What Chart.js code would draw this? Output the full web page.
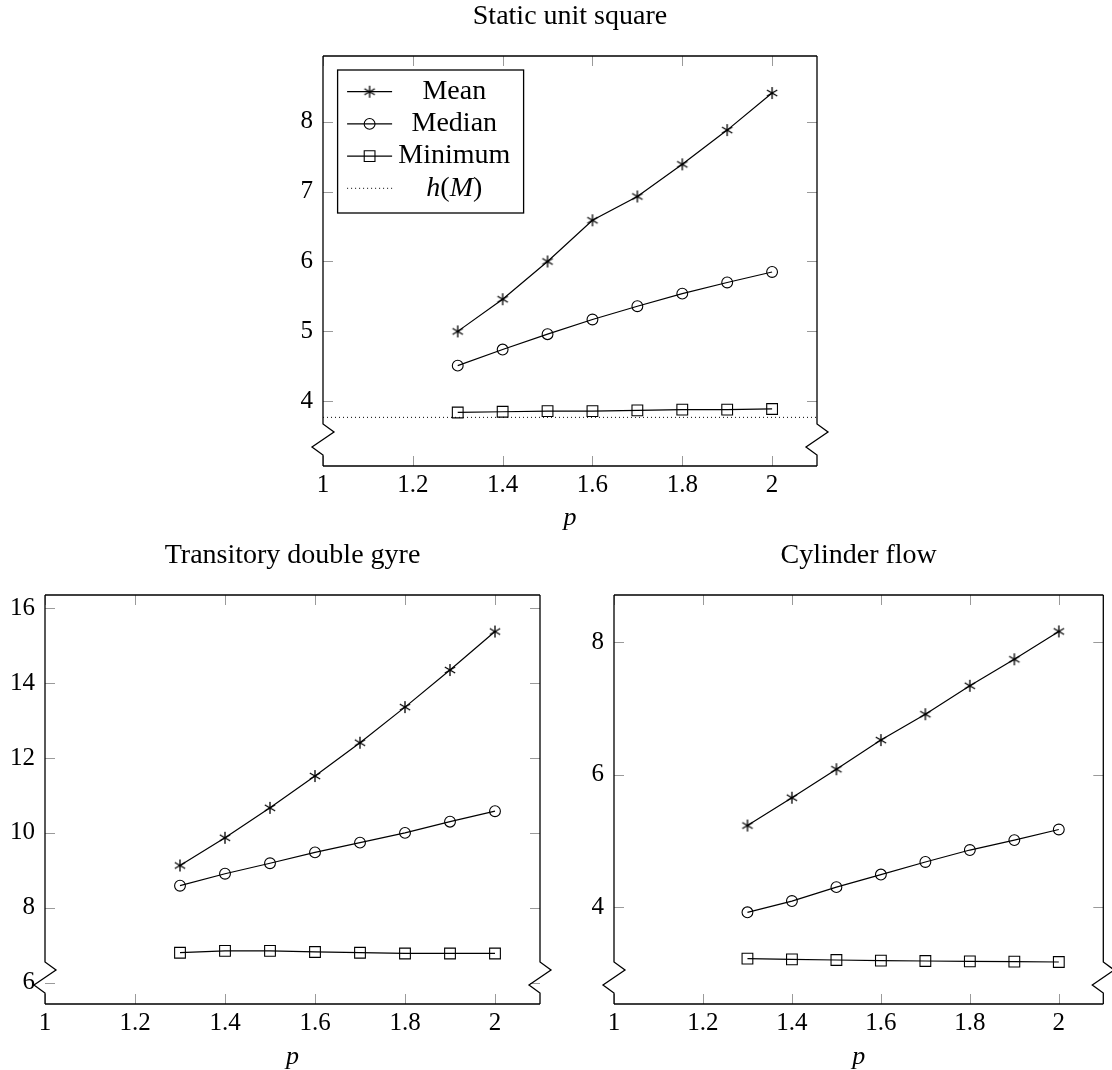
<!DOCTYPE html>
<html>
<head>
<meta charset="utf-8">
<script src="https://cdn.jsdelivr.net/npm/chart.js@4.4.0/dist/chart.umd.min.js"></script>
<style>
  body { margin: 0; background: #fff; overflow: hidden; width: 1112px; height: 1070px; position: relative; }
  .panel { position: absolute; }
</style>
</head>
<body>
<div class="panel" style="left:263px;top:0px"><canvas id="squareChart" width="580" height="536"></canvas></div>
<div class="panel" style="left:0px;top:539px"><canvas id="gyreChart" width="560" height="536"></canvas></div>
<div class="panel" style="left:570px;top:539px"><canvas id="cylinderChart" width="542" height="536"></canvas></div>
<script>
var pValues = [1.3, 1.4, 1.5, 1.6, 1.7, 1.8, 1.9, 2.0];
var pTicks = [1, 1.2, 1.4, 1.6, 1.8, 2];

var squareMean = [5.00, 5.46, 6.00, 6.59, 6.93, 7.39, 7.88, 8.41];
var squareMedian = [4.51, 4.74, 4.96, 5.17, 5.36, 5.54, 5.70, 5.85];
var squareMinimum = [3.84, 3.85, 3.86, 3.86, 3.87, 3.88, 3.88, 3.89];
var squareHM = 3.77;
var squareTicks = [4, 5, 6, 7, 8];

var gyreMean = [9.13, 9.87, 10.67, 11.52, 12.41, 13.36, 14.35, 15.38];
var gyreMedian = [8.59, 8.91, 9.19, 9.48, 9.74, 10.00, 10.30, 10.58];
var gyreMinimum = [6.80, 6.85, 6.85, 6.82, 6.80, 6.78, 6.78, 6.78];
var gyreTicks = [6, 8, 10, 12, 14, 16];

var cylinderMean = [5.23, 5.65, 6.08, 6.52, 6.91, 7.34, 7.74, 8.16];
var cylinderMedian = [3.92, 4.09, 4.30, 4.49, 4.68, 4.86, 5.01, 5.17];
var cylinderMinimum = [3.22, 3.21, 3.20, 3.19, 3.185, 3.18, 3.175, 3.17];
var cylinderTicks = [4, 6, 8];

var serif = "'Liberation Serif', 'Times New Roman', serif";
Chart.defaults.font.family = serif;
Chart.defaults.color = '#000';

// pgfplots style asterisk: three strokes through the centre
function makeAsterisk() {
    var c = document.createElement('canvas');
    c.width = 16;
    c.height = 16;
    var g = c.getContext('2d');
    g.strokeStyle = '#000';
    g.lineWidth = 1.3;
    g.beginPath();
    for (var k = 0; k < 3; k++) {
        var a = Math.PI / 2 + k * Math.PI / 3;
        g.moveTo(8 + 6 * Math.cos(a), 8 + 6 * Math.sin(a));
        g.lineTo(8 - 6 * Math.cos(a), 8 - 6 * Math.sin(a));
    }
    g.stroke();
    return c;
}
var asterisk = makeAsterisk();

function points(values) {
    return values.map(function (v, i) {
        return { x: pValues[i], y: v };
    });
}

function series(label, values, style, radius) {
    return {
        label: label,
        data: points(values),
        borderColor: '#000',
        borderWidth: 1.2,
        pointStyle: style,
        pointRadius: radius,
        pointBorderColor: '#000',
        pointBackgroundColor: 'rgba(0,0,0,0)',
        pointBorderWidth: 1.1,
        tension: 0
    };
}

function levelLine(label, level) {
    return {
        label: label,
        data: [{ x: 1, y: level }, { x: 2.1, y: level }],
        borderColor: '#000',
        borderWidth: 1,
        borderDash: [1, 3],
        pointRadius: 0,
        legendParts: [['h', 'italic'], ['(', 'normal'], ['M', 'italic'], [')', 'normal']]
    };
}

// box with inner grey ticks and the crunched y axis near the bottom
var framePlugin = {
    id: 'frame',
    afterDatasetsDraw: function (chart) {
        var ctx = chart.ctx;
        var a = chart.chartArea;
        var xs = chart.scales.x;
        var ys = chart.scales.y;
        ctx.save();
        ctx.strokeStyle = '#9a9a9a';
        ctx.lineWidth = 1;
        ctx.beginPath();
        xs.ticks.forEach(function (t) {
            var px = Math.round(xs.getPixelForValue(t.value)) + 0.5;
            ctx.moveTo(px, a.bottom);
            ctx.lineTo(px, a.bottom - 10);
            ctx.moveTo(px, a.top);
            ctx.lineTo(px, a.top + 10);
        });
        ys.ticks.forEach(function (t) {
            var py = Math.round(ys.getPixelForValue(t.value)) + 0.5;
            ctx.moveTo(a.left, py);
            ctx.lineTo(a.left + 10, py);
            ctx.moveTo(a.right, py);
            ctx.lineTo(a.right - 10, py);
        });
        ctx.stroke();

        ctx.strokeStyle = '#000';
        ctx.lineWidth = 1.3;
        ctx.beginPath();
        ctx.moveTo(a.left, a.top);
        ctx.lineTo(a.right, a.top);
        ctx.moveTo(a.left, a.bottom);
        ctx.lineTo(a.right, a.bottom);
        [a.left, a.right].forEach(function (x) {
            ctx.moveTo(x, a.top);
            ctx.lineTo(x, a.bottom - 42);
            ctx.lineTo(x + 11, a.bottom - 34);
            ctx.lineTo(x - 11, a.bottom - 19);
            ctx.lineTo(x, a.bottom - 11);
            ctx.lineTo(x, a.bottom);
        });
        ctx.stroke();
        ctx.restore();
    }
};

var legendPlugin = {
    id: 'boxLegend',
    afterDraw: function (chart) {
        var ctx = chart.ctx;
        var a = chart.chartArea;
        var x0 = a.left + 14.6;
        var y0 = a.top + 14;
        ctx.save();
        ctx.fillStyle = '#fff';
        ctx.fillRect(x0, y0, 186, 143);
        ctx.strokeStyle = '#000';
        ctx.lineWidth = 1.3;
        ctx.strokeRect(x0, y0, 186, 143);

        chart.data.datasets.forEach(function (ds, i) {
            var cy = y0 + 21.7 + i * 32.2;
            ctx.strokeStyle = '#000';
            ctx.lineWidth = ds.borderWidth;
            ctx.setLineDash(ds.borderDash || []);
            ctx.beginPath();
            ctx.moveTo(x0 + 9.5, cy);
            ctx.lineTo(x0 + 54.5, cy);
            ctx.stroke();
            ctx.setLineDash([]);
            if (ds.pointRadius > 0) {
                ctx.fillStyle = 'rgba(0,0,0,0)';
                ctx.lineWidth = ds.pointBorderWidth;
                Chart.helpers.drawPoint(ctx, {
                    pointStyle: ds.pointStyle,
                    radius: ds.pointRadius,
                    rotation: 0,
                    borderWidth: ds.pointBorderWidth
                }, x0 + 32, cy);
            }
            var parts = ds.legendParts || [[ds.label, 'normal']];
            var total = 0;
            parts.forEach(function (p) {
                ctx.font = p[1] + ' 28px ' + serif;
                total += ctx.measureText(p[0]).width;
            });
            var tx = a.left + 131.3 - total / 2;
            ctx.fillStyle = '#000';
            ctx.textBaseline = 'middle';
            ctx.textAlign = 'left';
            parts.forEach(function (p) {
                ctx.font = p[1] + ' 28px ' + serif;
                ctx.fillText(p[0], tx, cy);
                tx += ctx.measureText(p[0]).width;
            });
        });
        ctx.restore();
    }
};

function axes(yMin, yMax, yTicks, yWidth, xHeight) {
    return {
        x: {
            type: 'linear',
            min: 1,
            max: 2.1,
            afterBuildTicks: function (s) {
                s.ticks = pTicks.map(function (v) { return { value: v }; });
            },
            afterFit: function (s) { s.height = xHeight; },
            grid: { display: false, drawTicks: false },
            border: { display: false },
            ticks: {
                font: { size: 25 },
                padding: 4,
                maxRotation: 0,
                autoSkip: false,
                callback: function (v) { return String(v); }
            },
            title: {
                display: true,
                text: 'p',
                font: { size: 26, style: 'italic' },
                padding: { top: 0, bottom: 2 }
            }
        },
        y: {
            type: 'linear',
            min: yMin,
            max: yMax,
            afterBuildTicks: function (s) {
                s.ticks = yTicks.map(function (v) { return { value: v }; });
            },
            afterFit: function (s) { s.width = yWidth; },
            grid: { display: false, drawTicks: false },
            border: { display: false },
            ticks: {
                font: { size: 25 },
                padding: 10,
                callback: function (v) { return String(v); }
            }
        }
    };
}

function drawPanel(id, title, datasets, yMin, yMax, yTicks, yWidth, xHeight, rightPad, extraPlugins) {
    var ctx = document.getElementById(id).getContext('2d');
    return new Chart(ctx, {
        type: 'line',
        data: { datasets: datasets },
        options: {
            responsive: false,
            animation: false,
            devicePixelRatio: 1,
            layout: { padding: { left: 0, right: rightPad, top: 0, bottom: 0 } },
            plugins: {
                legend: { display: false },
                tooltip: { enabled: false },
                title: {
                    display: true,
                    fullSize: false,
                    text: title,
                    color: '#000',
                    font: { size: 28, weight: 'normal' },
                    padding: { top: 0, bottom: 22.4 }
                }
            },
            scales: axes(yMin, yMax, yTicks, yWidth, xHeight)
        },
        plugins: [framePlugin].concat(extraPlugins || [])
    });
}

drawPanel('squareChart', 'Static unit square', [
    series('Mean', squareMean, asterisk, 6),
    series('Median', squareMedian, 'circle', 5.4),
    series('Minimum', squareMinimum, 'rect', 7.6),
    levelLine('h(M)', squareHM)
], 3.074, 8.94, squareTicks, 60, 70, 26, [legendPlugin]);

drawPanel('gyreChart', 'Transitory double gyre', [
    series('Mean', gyreMean, asterisk, 6),
    series('Median', gyreMedian, 'circle', 5.4),
    series('Minimum', gyreMinimum, 'rect', 7.6)
], 5.43, 16.355, gyreTicks, 45, 71, 20);

drawPanel('cylinderChart', 'Cylinder flow', [
    series('Mean', cylinderMean, asterisk, 6),
    series('Median', cylinderMedian, 'circle', 5.4),
    series('Minimum', cylinderMinimum, 'rect', 7.6)
], 2.536, 8.71, cylinderTicks, 44, 71, 5);
</script>
</body>
</html>
